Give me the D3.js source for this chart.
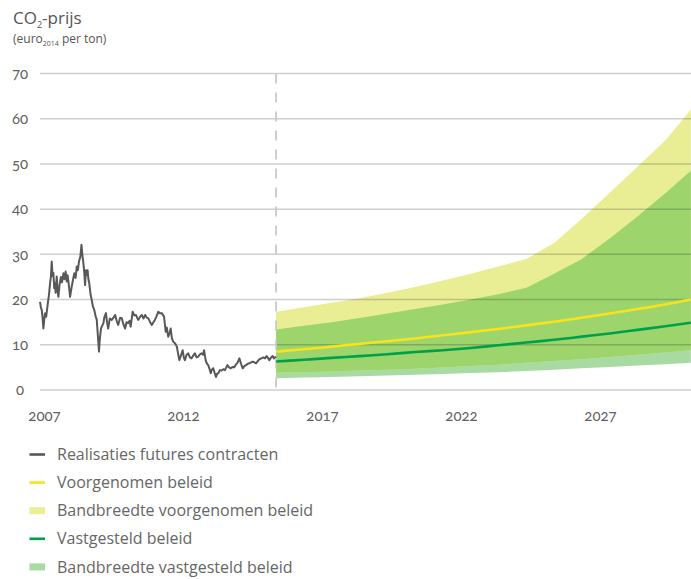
<!DOCTYPE html>
<html><head><meta charset="utf-8">
<script src="https://cdn.jsdelivr.net/npm/d3@7/dist/d3.min.js"></script>
<style>
body{margin:0;background:#fff;}
svg{display:block;font-family:"Open Sans",sans-serif;}
text{fill:#5f5f5f;}
.num{font-family:Lato,"Open Sans",sans-serif;font-feature-settings:"onum" 1;font-variant-numeric:oldstyle-nums;}
</style></head><body>
<svg id="chart" width="691" height="579"></svg>
<script>
// ---- data ----
const yTicks = [0,10,20,30,40,50,60,70];
const xTicks = [2007,2012,2017,2022,2027];

const histDates = [2006.84,2006.87,2006.90,2006.93,2006.96,2006.99,2007.02,2007.06,2007.12,2007.16,2007.20,2007.23,2007.26,2007.29,2007.32,2007.35,2007.38,2007.40,2007.44,2007.47,2007.50,2007.54,2007.59,2007.63,2007.68,2007.72,2007.76,2007.80,2007.83,2007.88,2007.92,2007.98,2008.03,2008.07,2008.12,2008.16,2008.20,2008.24,2008.29,2008.33,2008.36,2008.40,2008.43,2008.46,2008.49,2008.52,2008.55,2008.58,2008.61,2008.66,2008.70,2008.74,2008.79,2008.84,2008.88,2008.92,2008.96,2008.98,2009.00,2009.03,2009.06,2009.12,2009.15,2009.21,2009.25,2009.29,2009.35,2009.42,2009.48,2009.54,2009.60,2009.65,2009.72,2009.78,2009.84,2009.90,2009.95,2010.01,2010.06,2010.10,2010.17,2010.23,2010.29,2010.33,2010.37,2010.44,2010.50,2010.56,2010.62,2010.68,2010.73,2010.80,2010.86,2010.92,2010.97,2011.03,2011.09,2011.15,2011.22,2011.27,2011.30,2011.36,2011.40,2011.45,2011.50,2011.54,2011.58,2011.63,2011.70,2011.76,2011.80,2011.85,2011.90,2011.97,2012.01,2012.05,2012.11,2012.17,2012.23,2012.29,2012.35,2012.41,2012.47,2012.53,2012.59,2012.65,2012.70,2012.74,2012.78,2012.81,2012.85,2012.89,2012.94,2012.98,2013.02,2013.07,2013.12,2013.17,2013.21,2013.25,2013.31,2013.37,2013.43,2013.49,2013.54,2013.58,2013.64,2013.70,2013.76,2013.82,2013.88,2013.94,2014.01,2014.07,2014.13,2014.19,2014.25,2014.31,2014.37,2014.43,2014.49,2014.55,2014.61,2014.67,2014.73,2014.80,2014.87,2014.93,2014.99,2015.04,2015.09,2015.15,2015.21,2015.25,2015.29,2015.32];
const histPrices = [19.5,18.2,17.7,16.0,13.6,15.5,17.0,16.2,19.2,21.0,23.6,25.0,28.4,25.2,25.9,22.5,23.6,21.5,25.1,22.0,20.6,23.2,25.0,23.8,25.8,24.5,26.2,24.0,25.4,23.0,20.6,22.9,24.5,25.8,24.8,27.3,26.5,28.4,29.5,32.1,30.0,28.0,26.0,23.2,26.5,25.5,26.5,24.5,23.6,21.0,19.9,18.5,17.7,16.3,15.5,12.0,8.5,10.5,11.8,13.5,14.0,14.8,16.0,17.0,15.0,13.6,15.8,15.5,16.0,16.6,15.2,14.4,16.0,15.9,14.5,13.6,15.0,14.8,15.3,14.0,17.3,16.5,16.6,16.0,15.5,16.2,16.6,15.8,16.6,16.0,15.9,15.0,14.4,15.0,15.5,16.3,17.3,17.0,17.0,16.5,16.2,12.9,13.8,11.8,12.6,13.6,11.5,10.7,10.3,9.6,8.2,6.6,7.5,8.8,7.2,6.6,7.8,8.1,7.2,7.0,7.6,8.1,7.2,7.4,7.9,8.1,7.8,8.8,7.2,6.3,5.8,5.5,4.6,3.7,4.5,4.8,3.8,2.9,3.6,3.7,4.4,4.3,4.6,4.4,5.0,5.5,5.0,4.8,5.1,5.0,5.6,6.0,7.0,5.8,4.8,5.3,5.5,5.8,5.9,6.1,6.3,6.1,5.9,6.4,6.8,7.0,7.2,7.0,7.5,7.1,6.6,7.2,7.5,7.0,7.2,7.4];

const forecastYears = [2015.33,2016.33,2017.33,2018.33,2019.33,2020.33,2021.33,2022.33,2023.33,2024.33,2025.33,2026.33,2027.33,2028.33,2029.33,2030.25];
const voorgenomen     = [8.5,9.0,9.6,10.2,10.8,11.4,12.1,12.8,13.5,14.3,15.1,16.0,16.9,17.9,18.9,20.0];
const vastgesteld     = [6.3,6.7,7.1,7.5,7.9,8.4,8.8,9.3,9.9,10.5,11.1,11.8,12.5,13.3,14.1,14.9];
const voorgenomenLow  = [3.8,3.95,4.1,4.3,4.5,4.7,5.0,5.3,5.6,6.0,6.4,6.8,7.3,7.8,8.3,8.8];
const voorgenomenHigh = [17.3,18.3,19.3,20.3,21.5,22.8,24.2,25.7,27.3,29.0,32.5,37.9,43.6,49.4,55.2,62.0];
const vastgesteldLow  = [2.6,2.75,2.9,3.05,3.2,3.35,3.55,3.75,3.95,4.2,4.5,4.8,5.1,5.4,5.7,6.0];
const vastgesteldHigh = [13.4,14.2,15.0,15.9,16.9,17.9,18.9,20.0,21.2,22.6,25.7,29.0,33.5,38.4,43.5,48.5];
const splitYear = 2015.33;

const legendLabels = ["Realisaties futures contracten","Voorgenomen beleid","Bandbreedte voorgenomen beleid","Vastgesteld beleid","Bandbreedte vastgesteld beleid"];

// ---- styles ----
const C = {hist:"#585858", yLine:"#f7e31e", gLine:"#00a04b", yBand:"#e9ee95", gBand:"#a8dba1", overlap:"#9dd46c", dash:"#c9c9c9"};

const svg = d3.select("#chart");
const x = d3.scaleLinear().domain([2007,2027]).range([44.5,600.5]);
const y = d3.scaleLinear().domain([0,70]).range([390,73.5]);
const xLeft = 40, xRight = 691;

// title
const t = svg.append("text").attr("x",13).attr("y",24).style("font-size","17px").style("fill","#555");
t.append("tspan").text("CO");
t.append("tspan").attr("dy",4).style("font-size","9px").text("2");
t.append("tspan").attr("dy",-4).text("-prijs");
const st = svg.append("text").attr("x",13).attr("y",43).style("font-size","12px").style("fill","#555");
st.append("tspan").text("(euro");
st.append("tspan").attr("dy",3).style("font-size","7px").text("2014");
st.append("tspan").attr("dy",-3).text(" per ton)");

const fc = forecastYears.map((yr,i)=>({yr, v:voorgenomen[i], g:vastgesteld[i], vl:voorgenomenLow[i], vh:voorgenomenHigh[i], gl:vastgesteldLow[i], gh:vastgesteldHigh[i]}));

// bands
svg.append("path").datum(fc).attr("fill",C.gBand)
  .attr("d", d3.area().x(d=>x(d.yr)).y0(d=>y(d.gl)).y1(d=>y(d.gh)));
svg.append("path").datum(fc).attr("fill",C.yBand)
  .attr("d", d3.area().x(d=>x(d.yr)).y0(d=>y(d.vl)).y1(d=>y(d.vh)));
svg.append("path").datum(fc).attr("fill",C.overlap)
  .attr("d", d3.area().x(d=>x(d.yr)).y0(d=>y(Math.max(d.vl,d.gl))).y1(d=>y(Math.min(d.vh,d.gh))));

// grid
svg.append("g").selectAll("line").data(yTicks).join("line")
  .attr("x1",xLeft).attr("x2",xRight).attr("y1",d=>y(d)).attr("y2",d=>y(d))
  .attr("stroke","rgba(0,0,0,0.19)").attr("stroke-width",1.5);
svg.append("g").selectAll("text").data(yTicks).join("text").attr("class","num")
  .attr("x",20).attr("y",d=>y(d)).attr("dy","0.35em").attr("text-anchor","middle")
  .style("font-size","15px").text(d=>d);

// split dashed line
svg.append("line").attr("x1",x(splitYear)).attr("x2",x(splitYear)).attr("y1",y(70)).attr("y2",y(0)+5)
  .attr("stroke",C.dash).attr("stroke-width",1.8).attr("stroke-dasharray","10,9");

// x labels
svg.append("g").selectAll("text").data(xTicks).join("text").attr("class","num")
  .attr("x",d=>x(d)).attr("y",421).attr("text-anchor","middle")
  .style("font-size","15px").text(d=>d);

// lines
const line = (acc)=>d3.line().x(d=>x(d.yr)).y(d=>y(acc(d))).curve(d3.curveMonotoneX);
svg.append("path").datum(fc).attr("fill","none").attr("stroke",C.yLine).attr("stroke-width",2.6).attr("d",line(d=>d.v));
svg.append("path").datum(fc).attr("fill","none").attr("stroke",C.gLine).attr("stroke-width",2.6).attr("d",line(d=>d.g));

const hist = histDates.map((yr,i)=>({yr, p:histPrices[i]}));
svg.append("path").datum(hist).attr("fill","none").attr("stroke",C.hist).attr("stroke-width",2)
  .attr("stroke-linejoin","round").attr("d", d3.line().x(d=>x(d.yr)).y(d=>y(d.p)));

// legend
const legTypes = [{t:"line",c:C.hist},{t:"line",c:C.yLine},{t:"rect",c:C.yBand},{t:"line",c:C.gLine},{t:"rect",c:C.gBand}];
const lg = svg.append("g").selectAll("g").data(legendLabels).join("g")
  .attr("transform",(d,i)=>`translate(0,${454.5+i*28.1})`);
lg.each(function(d,i){
  const g = d3.select(this), tp = legTypes[i];
  if(tp.t==="line") g.append("rect").attr("x",29.5).attr("y",-1.3).attr("width",15.5).attr("height",2.6).attr("fill",tp.c);
  else g.append("rect").attr("x",29.5).attr("y",-3.5).attr("width",15.5).attr("height",7).attr("fill",tp.c);
  g.append("text").attr("x",57).attr("y",0).attr("dy","0.35em").style("font-size","16px").style("fill","#666").text(d);
});
</script></body></html>
